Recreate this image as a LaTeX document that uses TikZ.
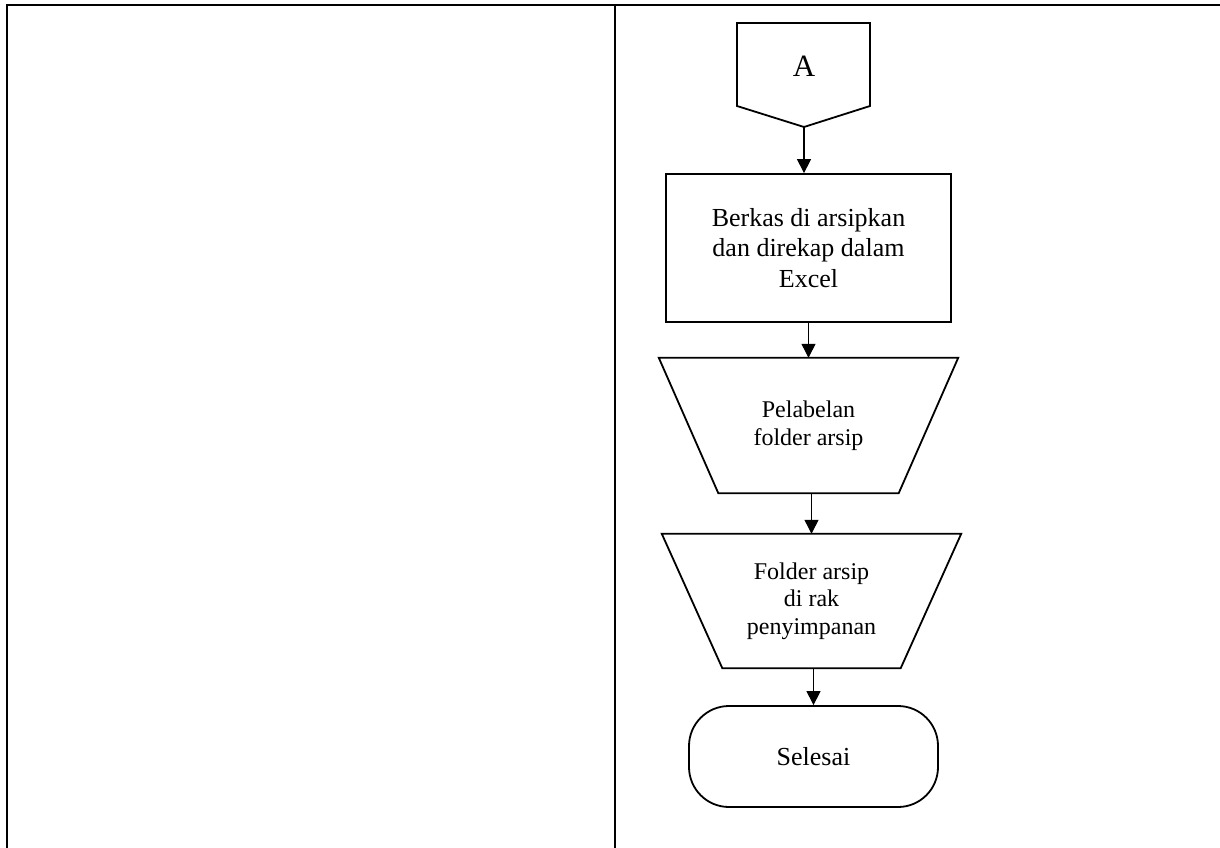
\documentclass[tikz,border=0pt]{standalone}
\usepackage{fontspec}
\setmainfont{Liberation Serif}
\usetikzlibrary{arrows.meta,calc}
\begin{document}
\begin{tikzpicture}[x=1pt,y=-1pt,
  shapeline/.style={draw=black, line width=1.8pt},
  body/.style={font=\fontsize{26}{30.5}\selectfont, align=center},
  small/.style={font=\fontsize{24}{27.5}\selectfont, align=center},
  flow/.style={-{Triangle[length=14pt,width=14pt]}, line width=1.2pt},
  frame/.style={line width=2.2pt}]
\useasboundingbox (0,0) rectangle (1220,848);
% frame
\draw[frame] (7,848) -- (7,5) -- (1220,5);
\draw[frame] (615,5) -- (615,848);
% off-page connector A
\node[font=\fontsize{31}{36}\selectfont, inner sep=0] (A) at (804,66) {A};
\coordinate (Atip) at (804,127);
\draw[shapeline] (737,23) -- (870,23) -- (870,106) -- (Atip) -- (737,106) -- cycle;
% process
\node[shapeline, body, minimum width=285, minimum height=148, inner sep=0] (R) at (808.5,248)
  {Berkas di arsipkan\\dan direkap dalam\\Excel};
% manual operation 1
\node[small, minimum width=299, minimum height=135, inner sep=0] (P1) at (808.5,425.5)
  {Pelabelan\\folder arsip};
\draw[shapeline] (P1.north west) -- (P1.north east) -- ($(P1.south east)+(-59.5,0)$)
  -- ($(P1.south west)+(59.5,0)$) -- cycle;
% manual operation 2
\node[small, minimum width=299, minimum height=134, inner sep=0] (P2) at (811.5,601)
  {Folder arsip\\di rak\\penyimpanan};
\draw[shapeline] (P2.north west) -- (P2.north east) -- ($(P2.south east)+(-60.5,0)$)
  -- ($(P2.south west)+(60.5,0)$) -- cycle;
% terminator
\node[shapeline, body, rounded corners=40pt, minimum width=249, minimum height=101, inner sep=0] (S) at (813.5,756.5) {Selesai};
% connectors
\draw[flow] (Atip) -- (Atip |- R.north);
\draw[flow] (R.south) -- (R.south |- P1.north);
\draw[flow] (P2.north |- P1.south) -- (P2.north);
\draw[flow] (S.north |- P2.south) -- (S.north);
\end{tikzpicture}
\end{document}
